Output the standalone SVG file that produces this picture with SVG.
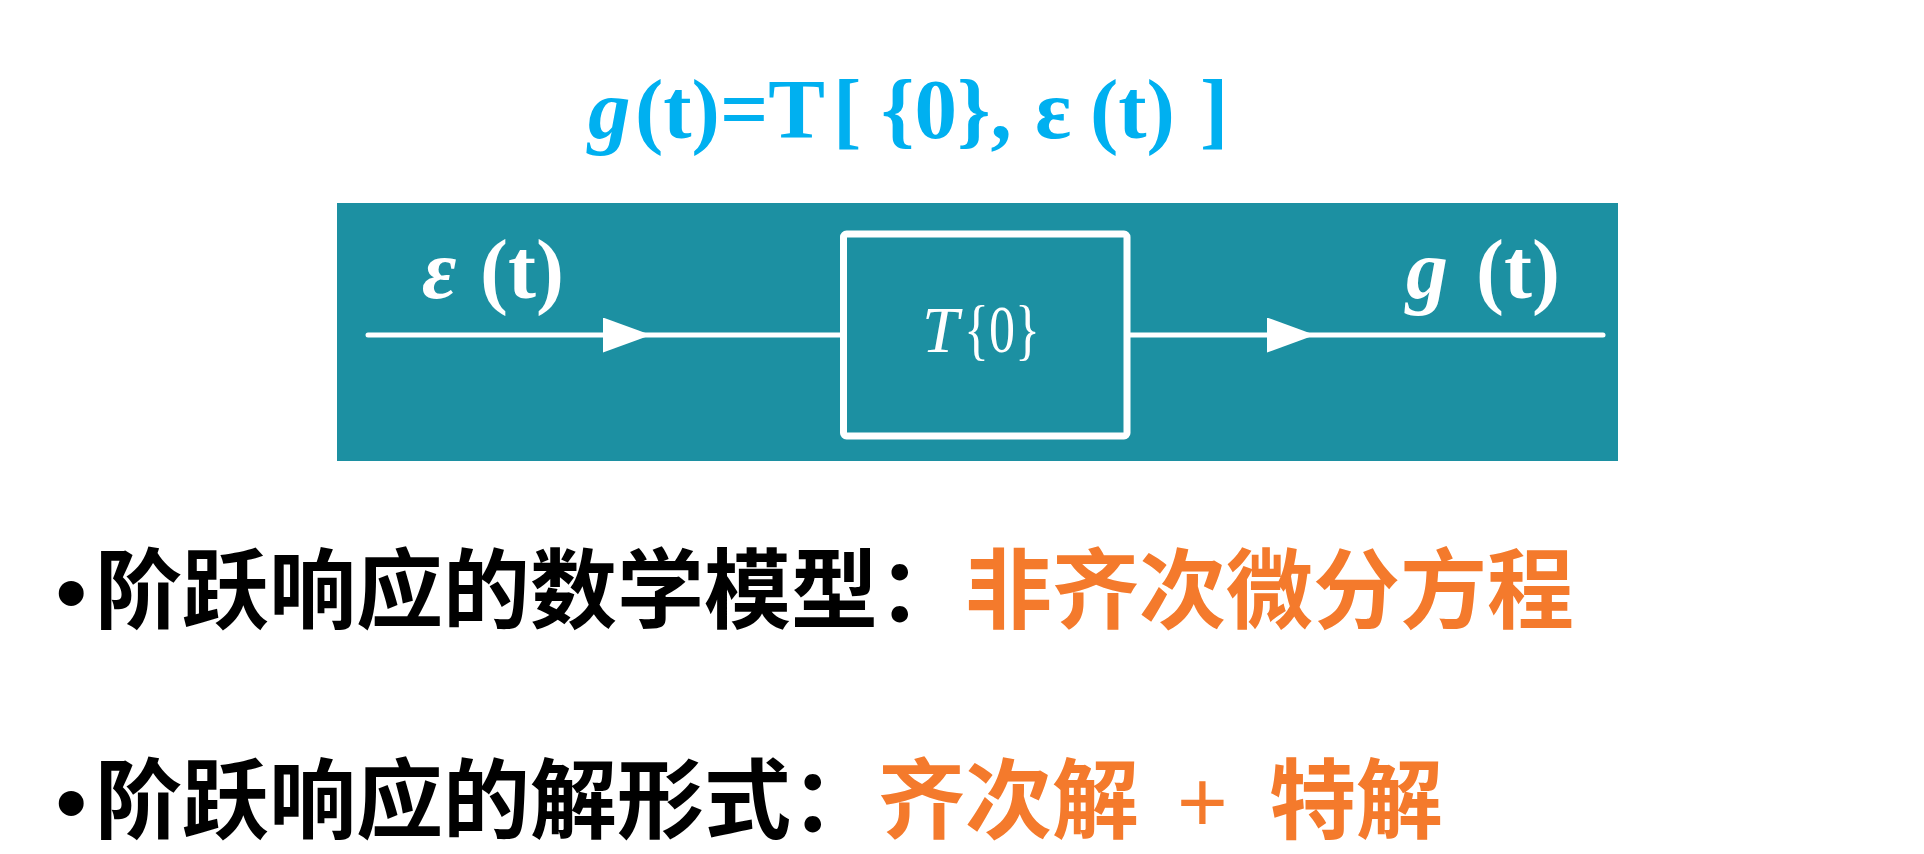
<svg xmlns="http://www.w3.org/2000/svg" width="1924" height="854" viewBox="0 0 1924 854">
<style>
.serif{font-family:"Liberation Serif","Times New Roman",serif;}
.formula{font-size:85px;font-weight:700;fill:#00B0F0;}
.lbl{font-size:84px;font-weight:700;fill:#FFFFFF;}
.it{font-style:italic;}
.cjk{font-family:"Noto Sans CJK SC","Noto Sans",sans-serif;font-size:87px;font-weight:700;}
.bul{font-family:"Liberation Sans",Arial,sans-serif;font-size:87px;font-weight:700;}
.plus{font-family:"Liberation Sans",Arial,sans-serif;font-size:87px;font-weight:400;}
.blk{fill:#000000;}
.org{fill:#F47A2C;}
.wire{fill:none;stroke:#FFFFFF;stroke-width:5;stroke-linecap:round;marker-mid:url(#arrow);}
</style>
<defs>
<marker id="arrow" markerUnits="userSpaceOnUse" markerWidth="48" markerHeight="36" viewBox="0 0 48 36" refX="48" refY="17.5" orient="auto">
<path d="M0,0 L48,17.5 L0,35 Z" fill="#FFFFFF"/>
</marker>
</defs>
<rect width="1924" height="854" fill="#FFFFFF"/>

<g id="formula">
<text class="serif formula" y="138"><tspan class="it" x="588">g</tspan><tspan x="635">(t)=T</tspan><tspan x="833">[ </tspan><tspan x="881">{0}, </tspan><tspan x="1035">ε </tspan><tspan x="1090">(t) </tspan><tspan x="1200">]</tspan></text>
</g>

<rect id="panel" x="337" y="203" width="1281" height="258" fill="#1C90A2"/>

<g id="connectors">
<path class="wire" d="M368,335 L651,335 L840,335"/>
<path class="wire" d="M1130,335 L1315,335 L1603,335"/>
</g>

<g id="input-label">
<text class="serif lbl" y="298"><tspan class="it" x="422">ε</tspan><tspan x="480">(t)</tspan></text>
</g>

<g id="system">
<rect x="843.5" y="234" width="283.5" height="202" rx="3" fill="none" stroke="#FFFFFF" stroke-width="7"/>
<text class="serif it" x="922" y="352" font-size="66" fill="#FFFFFF">T</text>
<text class="serif" x="964" y="352" font-size="68" fill="#FFFFFF" textLength="76" lengthAdjust="spacingAndGlyphs">{0}</text>
</g>

<g id="output-label">
<text class="serif lbl" y="298"><tspan class="it" x="1406">g</tspan><tspan x="1476">(t)</tspan></text>
</g>

<g id="line1">
<text y="622"><tspan class="bul blk" x="56">•</tspan><tspan class="cjk blk" x="95">阶跃响应的数学模型：</tspan><tspan class="cjk org">非齐次微分方程</tspan></text>
</g>

<g id="line2">
<text y="832"><tspan class="bul blk" x="56">•</tspan><tspan class="cjk blk" x="95">阶跃响应的解形式：</tspan><tspan class="cjk org">齐次解 </tspan><tspan class="plus org" x="1177">+ </tspan><tspan class="cjk org" x="1269">特解</tspan></text>
</g>
</svg>
